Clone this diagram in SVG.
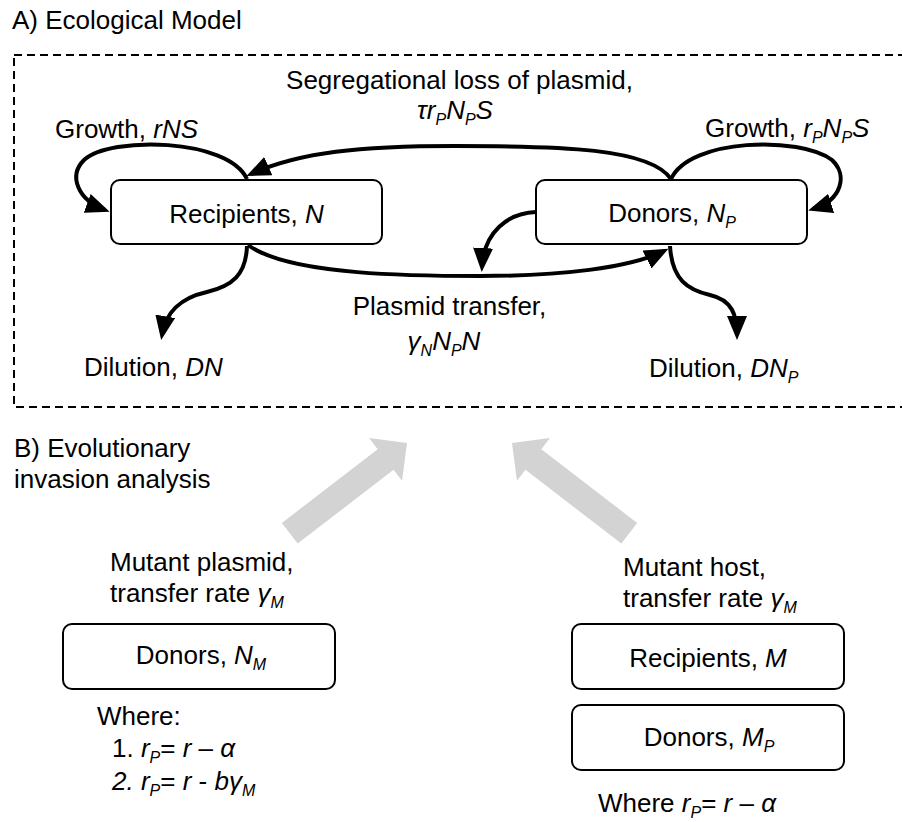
<svg xmlns="http://www.w3.org/2000/svg" width="902" height="822" viewBox="0 0 902 822">
<style>
text{font-family:"Liberation Sans",Arial,sans-serif;font-size:26px;fill:#000}
.it{font-style:italic}
.sub{font-size:16px;font-style:italic}
.box{fill:#fff;stroke:#000;stroke-width:2}
.con{fill:none;stroke:#000;stroke-width:4}
.big{fill:#d3d3d3}
</style>
<defs>
<marker id="ah" markerUnits="userSpaceOnUse" markerWidth="24" markerHeight="20" refX="19" refY="10" orient="auto" viewBox="0 0 24 20"><path d="M0,0 L24,10 L0,20 z" fill="#000"/></marker>
</defs>
<rect width="902" height="822" fill="#fff"/>
<text x="12" y="29">A) Ecological Model</text>
<rect x="14" y="55" width="895" height="352" fill="none" stroke="#000" stroke-width="2" stroke-dasharray="8 5"/>

<g id="connectors">
<path class="con" marker-end="url(#ah)" d="M247 179 C228 138 110 136 84 160 C68 176 78 200 105 210"/>
<path class="con" marker-end="url(#ah)" d="M671 179 C650 148 560 146 455 146 C360 146 300 152 251 174"/>
<path class="con" marker-end="url(#ah)" d="M671 179 C690 138 800 136 832 160 C848 175 842 200 813 209"/>
<path class="con" marker-end="url(#ah)" d="M248 245 C290 276 420 276 480 276 C560 276 630 268 664 251"/>
<path class="con" marker-end="url(#ah)" d="M536 212 C508 213 484 232 482 267"/>
<path class="con" marker-end="url(#ah)" d="M247 246 C246 275 232 286 207 292 C180 298 166 312 162 335"/>
<path class="con" marker-end="url(#ah)" d="M670 246 C672 280 688 290 710 295 C732 300 737 315 737 335"/>
<polygon class="big" transform="translate(407 443) rotate(-37.6)" points="0,0 -27,-27 -27,-13 -148,-13 -148,13 -27,13 -27,27"/>
<polygon class="big" transform="translate(512 443) rotate(-142.4)" points="0,0 -27,-27 -27,-13 -148,-13 -148,13 -27,13 -27,27"/>
</g>

<g id="labels">
<text x="459.5" y="89" text-anchor="middle">Segregational loss of plasmid,</text>
<text x="455" y="119" text-anchor="middle" class="it">τr<tspan class="sub" dy="6">P</tspan><tspan dy="-6">N</tspan><tspan class="sub" dy="6">P</tspan><tspan dy="-6">S</tspan></text>
<text x="55" y="138">Growth, <tspan class="it">rNS</tspan></text>
<text x="705" y="137">Growth, <tspan class="it">r</tspan><tspan class="sub" dy="6">P</tspan><tspan class="it" dy="-6">N</tspan><tspan class="sub" dy="6">P</tspan><tspan class="it" dy="-6">S</tspan></text>
<text x="449.5" y="315" text-anchor="middle">Plasmid transfer,</text>
<text x="444" y="350" text-anchor="middle" class="it">γ<tspan class="sub" dy="6">N</tspan><tspan dy="-6">N</tspan><tspan class="sub" dy="6">P</tspan><tspan dy="-6">N</tspan></text>
<text x="84" y="376">Dilution, <tspan class="it">DN</tspan></text>
<text x="649" y="377">Dilution, <tspan class="it">DN</tspan><tspan class="sub" dy="6">P</tspan></text>
</g>

<g id="recipients">
<rect class="box" x="111" y="180" width="271" height="64" rx="9"/>
<text x="246.5" y="223" text-anchor="middle">Recipients, <tspan class="it">N</tspan></text>
</g>
<g id="donors">
<rect class="box" x="536" y="180" width="271" height="64" rx="9"/>
<text x="672" y="222" text-anchor="middle">Donors, <tspan class="it">N</tspan><tspan class="sub" dy="6">P</tspan></text>
</g>

<text x="14" y="457">B) Evolutionary</text>
<text x="14" y="488">invasion analysis</text>

<g id="mutant-plasmid">
<text x="110" y="571">Mutant plasmid,</text>
<text x="110" y="602">transfer rate <tspan class="it">γ</tspan><tspan class="sub" dy="6">M</tspan></text>
</g>
<g id="donors-nm">
<rect class="box" x="63" y="624" width="272" height="65" rx="9"/>
<text x="201" y="664" text-anchor="middle">Donors, <tspan class="it">N</tspan><tspan class="sub" dy="6">M</tspan></text>
</g>
<g id="where-left">
<text x="97" y="725">Where:</text>
<text x="112" y="757">1. <tspan class="it">r</tspan><tspan class="sub" dy="6">P</tspan><tspan dy="-6">= </tspan><tspan class="it">r</tspan> – <tspan class="it">α</tspan></text>
<text x="112" y="790"><tspan class="it">2.</tspan> <tspan class="it">r</tspan><tspan class="sub" dy="6">P</tspan><tspan dy="-6">= </tspan><tspan class="it">r</tspan> - <tspan class="it">bγ</tspan><tspan class="sub" dy="6">M</tspan></text>
</g>

<g id="mutant-host">
<text x="623" y="576">Mutant host,</text>
<text x="623" y="607">transfer rate <tspan class="it">γ</tspan><tspan class="sub" dy="6">M</tspan></text>
</g>
<g id="recipients-m">
<rect class="box" x="572" y="624" width="272" height="65" rx="9"/>
<text x="708" y="667" text-anchor="middle">Recipients, <tspan class="it">M</tspan></text>
</g>
<g id="donors-mp">
<rect class="box" x="572" y="705" width="272" height="65" rx="9"/>
<text x="709" y="746" text-anchor="middle">Donors, <tspan class="it">M</tspan><tspan class="sub" dy="6">P</tspan></text>
</g>
<g id="where-right">
<text x="598" y="812">Where <tspan class="it">r</tspan><tspan class="sub" dy="6">P</tspan><tspan dy="-6">= </tspan><tspan class="it">r</tspan> – <tspan class="it">α</tspan></text>
</g>
</svg>
